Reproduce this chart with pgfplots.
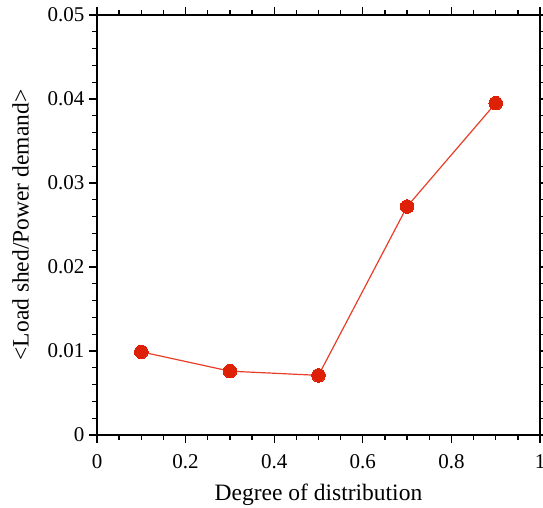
\documentclass[border=0pt]{standalone}
\usepackage{fontspec}
\setmainfont{Liberation Serif}
\usepackage{pgfplots}
\pgfplotsset{compat=1.18}
\definecolor{ptred}{RGB}{222,32,6}
\definecolor{lnred}{RGB}{232,62,40}
\begin{document}
\begin{tikzpicture}
\begin{axis}[
  at={(0pt,0pt)}, anchor=south west,
  scale only axis, width=443pt, height=420pt,
  xmin=0, xmax=1, ymin=0, ymax=0.05,
  xtick={0,0.2,0.4,0.6,0.8,1},
  ytick={0,0.01,0.02,0.03,0.04,0.05},
  minor x tick num=3, minor y tick num=4,
  tick align=outside, tick pos=both,
  major tick length=8pt, minor tick length=4.5pt,
  every tick/.style={black, line width=1.3pt},
  axis line style={line width=1.5pt},
  scaled x ticks=false, scaled y ticks=false,
  xticklabel style={/pgf/number format/fixed, /pgf/number format/precision=2, font=\fontsize{21}{24}\selectfont, yshift=-8pt},
  yticklabel style={/pgf/number format/fixed, /pgf/number format/precision=2, font=\fontsize{21}{24}\selectfont, xshift=-1pt},
  /pgf/number format/assume math mode=true,
  xlabel={Degree of distribution},
  ylabel={<Load shed/Power demand>},
  label style={font=\fontsize{23.5}{26}\selectfont},
  xlabel style={yshift=-8pt},
  ylabel style={yshift=12pt},
]
\addplot[color=lnred, line width=1.2pt, mark=*, mark size=6.8pt,
  mark options={fill=ptred, draw=ptred, line width=0pt}]
  coordinates {(0.1,0.0099) (0.3,0.0076) (0.5,0.0071) (0.7,0.0272) (0.9,0.0395)};
\end{axis}
\pgfresetboundingbox
\path (-97pt,-73pt) rectangle (446pt,435pt);
\end{tikzpicture}
\end{document}
